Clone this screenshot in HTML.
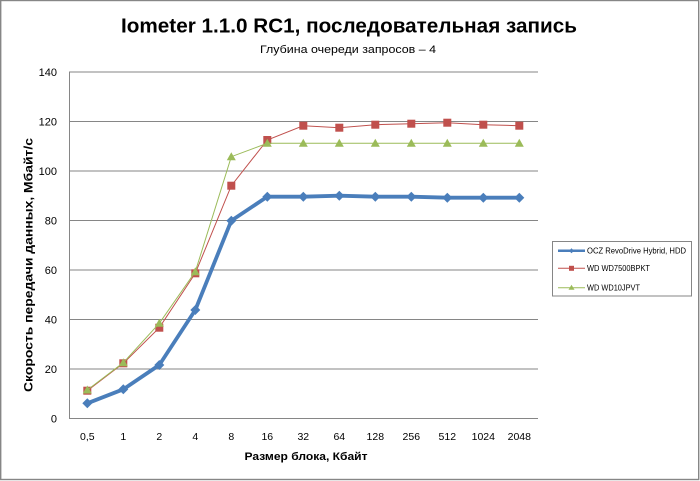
<!DOCTYPE html>
<html><head><meta charset="utf-8"><style>
html,body{margin:0;padding:0;background:#fff;}
svg{display:block;font-family:"Liberation Sans","DejaVu Sans",sans-serif;}
</style></head><body>
<svg width="700" height="481" viewBox="0 0 700 481" xmlns="http://www.w3.org/2000/svg">
<rect x="0" y="0" width="700" height="481" fill="#fff"/>
<rect x="0.7" y="0.5" width="698" height="479" fill="none" stroke="#868686" stroke-width="1.4"/>
<text x="349" y="32.5" font-size="20" font-weight="bold" text-anchor="middle" textLength="456" lengthAdjust="spacingAndGlyphs" fill="#000">Iometer 1.1.0 RC1, последовательная запись</text>
<text x="348" y="53" font-size="11" text-anchor="middle" textLength="176" lengthAdjust="spacingAndGlyphs" fill="#000">Глубина очереди запросов – 4</text>
<g stroke="#868686" stroke-width="1">
<line x1="69" y1="72" x2="538" y2="72"/>
<line x1="69" y1="121.5" x2="538" y2="121.5"/>
<line x1="69" y1="171" x2="538" y2="171"/>
<line x1="69" y1="220.5" x2="538" y2="220.5"/>
<line x1="69" y1="270" x2="538" y2="270"/>
<line x1="69" y1="319.5" x2="538" y2="319.5"/>
<line x1="69" y1="369" x2="538" y2="369"/>
<line x1="69" y1="418.5" x2="538" y2="418.5"/>
<line x1="69.5" y1="72" x2="69.5" y2="419"/>
</g>
<g font-size="11" text-anchor="end" fill="#000">
<text x="57" y="76">140</text>
<text x="57" y="125.5">120</text>
<text x="57" y="175">100</text>
<text x="57" y="224.5">80</text>
<text x="57" y="274">60</text>
<text x="57" y="323.5">40</text>
<text x="57" y="373">20</text>
<text x="57" y="422.5">0</text>
</g>
<g font-size="10.5" text-anchor="middle" fill="#000">
<text x="87.3" y="440">0,5</text>
<text x="123.3" y="440">1</text>
<text x="159.3" y="440">2</text>
<text x="195.3" y="440">4</text>
<text x="231.3" y="440">8</text>
<text x="267.3" y="440">16</text>
<text x="303.3" y="440">32</text>
<text x="339.3" y="440">64</text>
<text x="375.3" y="440">128</text>
<text x="411.3" y="440">256</text>
<text x="447.3" y="440">512</text>
<text x="483.3" y="440">1024</text>
<text x="519.3" y="440">2048</text>
</g>
<text x="306" y="460" font-size="11" font-weight="bold" text-anchor="middle" textLength="123" lengthAdjust="spacingAndGlyphs" fill="#000">Размер блока, Кбайт</text>
<text transform="translate(32.5,265) rotate(-90)" font-size="12" font-weight="bold" text-anchor="middle" textLength="254" lengthAdjust="spacingAndGlyphs" fill="#000">Скорость передачи данных, Мбайт/с</text>

<!-- Blue series -->
<polyline fill="none" stroke="#4A7EBB" stroke-width="3.8" stroke-linejoin="round" points="87.3,403.3 123.3,389.3 159.3,365 195.3,310 231.3,220.7 267.3,196.7 303.3,196.7 339.3,195.7 375.3,196.7 411.3,196.7 447.3,197.7 483.3,197.7 519.3,197.7"/>
<g fill="#4A7EBB">
<path d="M87.3,398.3 l5,5 l-5,5 l-5,-5z"/>
<path d="M123.3,384.3 l5,5 l-5,5 l-5,-5z"/>
<path d="M159.3,360 l5,5 l-5,5 l-5,-5z"/>
<path d="M195.3,305 l5,5 l-5,5 l-5,-5z"/>
<path d="M231.3,215.7 l5,5 l-5,5 l-5,-5z"/>
<path d="M267.3,191.7 l5,5 l-5,5 l-5,-5z"/>
<path d="M303.3,191.7 l5,5 l-5,5 l-5,-5z"/>
<path d="M339.3,190.7 l5,5 l-5,5 l-5,-5z"/>
<path d="M375.3,191.7 l5,5 l-5,5 l-5,-5z"/>
<path d="M411.3,191.7 l5,5 l-5,5 l-5,-5z"/>
<path d="M447.3,192.7 l5,5 l-5,5 l-5,-5z"/>
<path d="M483.3,192.7 l5,5 l-5,5 l-5,-5z"/>
<path d="M519.3,192.7 l5,5 l-5,5 l-5,-5z"/>
</g>

<!-- Red series -->
<polyline fill="none" stroke="#C0504D" stroke-width="1" points="87.3,390.7 123.3,363.3 159.3,327.7 195.3,273.3 231.3,185.7 267.3,140 303.3,125.7 339.3,127.7 375.3,124.7 411.3,123.7 447.3,122.7 483.3,124.7 519.3,125.7"/>
<g fill="#C0504D">
<rect x="83.3" y="386.7" width="8" height="8"/>
<rect x="119.3" y="359.3" width="8" height="8"/>
<rect x="155.3" y="323.7" width="8" height="8"/>
<rect x="191.3" y="269.3" width="8" height="8"/>
<rect x="227.3" y="181.7" width="8" height="8"/>
<rect x="263.3" y="136" width="8" height="8"/>
<rect x="299.3" y="121.7" width="8" height="8"/>
<rect x="335.3" y="123.7" width="8" height="8"/>
<rect x="371.3" y="120.7" width="8" height="8"/>
<rect x="407.3" y="119.7" width="8" height="8"/>
<rect x="443.3" y="118.7" width="8" height="8"/>
<rect x="479.3" y="120.7" width="8" height="8"/>
<rect x="515.3" y="121.7" width="8" height="8"/>
</g>

<!-- Green series -->
<polyline fill="none" stroke="#9BBB59" stroke-width="1" points="87.3,390 123.3,362.7 159.3,323.3 195.3,271.7 231.3,156.7 267.3,143.3 303.3,143.3 339.3,143.3 375.3,143.3 411.3,143.3 447.3,143.3 483.3,143.3 519.3,143.3"/>
<g fill="#9BBB59">
<path d="M87.3,385.5 l4.5,8 l-9,0z"/>
<path d="M123.3,358.2 l4.5,8 l-9,0z"/>
<path d="M159.3,318.8 l4.5,8 l-9,0z"/>
<path d="M195.3,267.2 l4.5,8 l-9,0z"/>
<path d="M231.3,152.2 l4.5,8 l-9,0z"/>
<path d="M267.3,138.8 l4.5,8 l-9,0z"/>
<path d="M303.3,138.8 l4.5,8 l-9,0z"/>
<path d="M339.3,138.8 l4.5,8 l-9,0z"/>
<path d="M375.3,138.8 l4.5,8 l-9,0z"/>
<path d="M411.3,138.8 l4.5,8 l-9,0z"/>
<path d="M447.3,138.8 l4.5,8 l-9,0z"/>
<path d="M483.3,138.8 l4.5,8 l-9,0z"/>
<path d="M519.3,138.8 l4.5,8 l-9,0z"/>
</g>

<!-- Legend -->
<rect x="552.5" y="241.5" width="139" height="54.5" fill="#fff" stroke="#868686" stroke-width="1"/>
<line x1="558" y1="250.7" x2="585" y2="250.7" stroke="#4A7EBB" stroke-width="2.5"/>
<path d="M571.5,248.2 l2.5,2.5 l-2.5,2.5 l-2.5,-2.5z" fill="#4A7EBB"/>
<text x="587" y="253.5" font-size="8" textLength="99" lengthAdjust="spacingAndGlyphs" fill="#000">OCZ RevoDrive Hybrid, HDD</text>
<line x1="558" y1="268.3" x2="585" y2="268.3" stroke="#C0504D" stroke-width="1"/>
<rect x="569" y="265.8" width="5" height="5" fill="#C0504D"/>
<text x="587" y="271.1" font-size="8" textLength="63" lengthAdjust="spacingAndGlyphs" fill="#000">WD WD7500BPKT</text>
<line x1="558" y1="287.7" x2="585" y2="287.7" stroke="#9BBB59" stroke-width="1"/>
<path d="M571.5,284.7 l3,5 l-6,0z" fill="#9BBB59"/>
<text x="587" y="290.5" font-size="8" textLength="53" lengthAdjust="spacingAndGlyphs" fill="#000">WD WD10JPVT</text>
</svg>
</body></html>
